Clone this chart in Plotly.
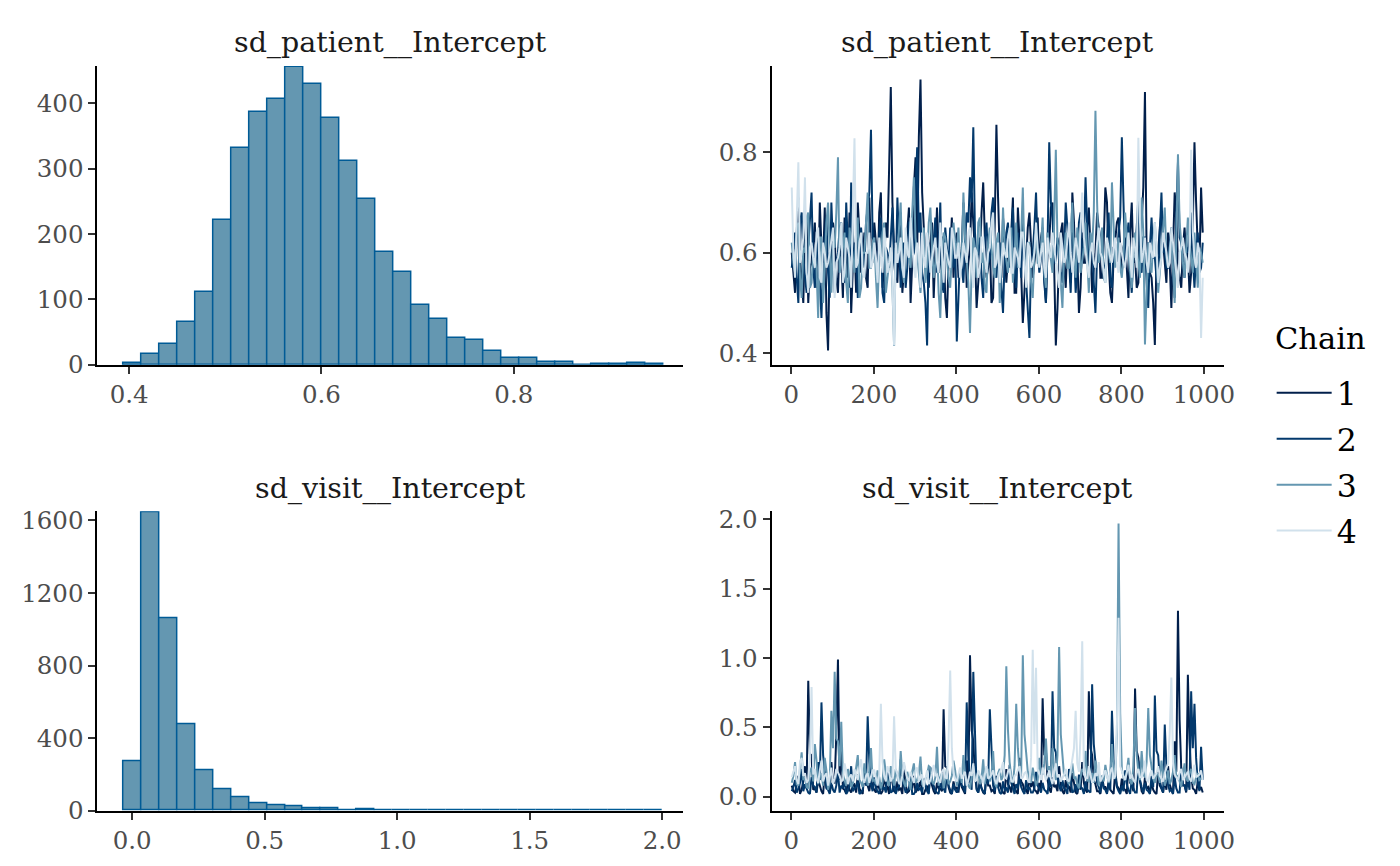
import plotly.graph_objects as go

# Histogram counts (30 bins each)
patient_bin_start = 0.3944
patient_bin_width = 0.01869
patient_counts = [2, 17, 31, 65, 111, 221, 331, 387, 407, 455,
                  429, 377, 312, 253, 173, 142, 91, 70, 41, 37,
                  21, 10, 10, 4, 4, 0, 1, 1, 2, 1]

visit_bin_start = -0.0335
visit_bin_width = 0.0678
visit_counts = [271, 1644, 1062, 476, 221, 120, 72, 42, 31, 24,
                15, 13, 4, 7, 4, 5, 4, 2, 3, 4,
                2, 2, 2, 1, 1, 1, 1, 2, 1, 2]

# Trace plots: draws 1, 9, 17, ... ("a") and 5, 13, 21, ... ("b") of each chain
iterations = list(range(1, 1001, 4))

patient_chain1_a = [
    0.60, 0.52, 0.71, 0.55, 0.63, 0.50, 0.58, 0.66, 0.54, 0.61, 0.69, 0.405, 0.57, 0.63, 0.52, 0.59, 0.67, 0.55, 0.48, 0.62, 0.70, 0.56, 0.64, 0.53, 0.60,
    0.66, 0.55, 0.72, 0.58, 0.63, 0.93, 0.61, 0.54, 0.68, 0.57, 0.64, 0.50, 0.73, 0.60, 0.945, 0.65, 0.56, 0.62, 0.51, 0.69, 0.58, 0.63, 0.47, 0.60, 0.55,
    0.64, 0.57, 0.70, 0.53, 0.61, 0.66, 0.49, 0.59, 0.74, 0.55, 0.62, 0.51, 0.855, 0.60, 0.67, 0.54, 0.58, 0.71, 0.52, 0.63, 0.46, 0.60, 0.68, 0.55, 0.61,
    0.57, 0.65, 0.50, 0.62, 0.70, 0.415, 0.59, 0.66, 0.53, 0.61, 0.72, 0.56, 0.48, 0.64, 0.58, 0.69, 0.52, 0.60, 0.65, 0.55, 0.73, 0.58, 0.50, 0.62, 0.67,
    0.56, 0.63, 0.51, 0.70, 0.59, 0.54, 0.66, 0.92, 0.62, 0.55, 0.416, 0.60, 0.68, 0.57, 0.64, 0.49, 0.72, 0.58, 0.53, 0.65, 0.60, 0.56, 0.82, 0.61, 0.73,
]
patient_chain1_b = [
    0.56, 0.64, 0.59, 0.50, 0.67, 0.57, 0.62, 0.53, 0.70, 0.58, 0.48, 0.60, 0.66, 0.55, 0.63, 0.51, 0.61, 0.68, 0.57, 0.52, 0.64, 0.59, 0.55, 0.71, 0.58,
    0.62, 0.68, 0.53, 0.66, 0.77, 0.70, 0.57, 0.63, 0.52, 0.61, 0.69, 0.58, 0.79, 0.83, 0.72, 0.59, 0.53, 0.66, 0.60, 0.56, 0.63, 0.51, 0.58, 0.67, 0.62,
    0.55, 0.61, 0.65, 0.58, 0.72, 0.60, 0.54, 0.68, 0.63, 0.57, 0.50, 0.66, 0.71, 0.55, 0.62, 0.59, 0.64, 0.52, 0.69, 0.56, 0.53, 0.65, 0.60, 0.58, 0.67,
    0.63, 0.55, 0.61, 0.69, 0.57, 0.49, 0.64, 0.58, 0.62, 0.54, 0.66, 0.60, 0.53, 0.58, 0.65, 0.61, 0.57, 0.68, 0.55, 0.62, 0.70, 0.52, 0.59, 0.66, 0.60,
    0.61, 0.57, 0.64, 0.58, 0.53, 0.67, 0.73, 0.60, 0.56, 0.50, 0.59, 0.65, 0.62, 0.54, 0.58, 0.63, 0.68, 0.55, 0.61, 0.59, 0.52, 0.66, 0.70, 0.57, 0.64,
]
patient_chain2_a = [
    0.57, 0.64, 0.50, 0.68, 0.55, 0.61, 0.72, 0.53, 0.59, 0.47, 0.63, 0.56, 0.70, 0.52, 0.60, 0.66, 0.54, 0.61, 0.74, 0.58, 0.51, 0.65, 0.57, 0.69, 0.845,
    0.62, 0.55, 0.67, 0.50, 0.60, 0.64, 0.58, 0.71, 0.53, 0.62, 0.57, 0.66, 0.60, 0.81, 0.68, 0.54, 0.415, 0.59, 0.63, 0.56, 0.70, 0.52, 0.61, 0.65, 0.57,
    0.423, 0.60, 0.54, 0.68, 0.75, 0.85, 0.58, 0.63, 0.51, 0.66, 0.59, 0.71, 0.55, 0.62, 0.48, 0.64, 0.57, 0.69, 0.53, 0.61, 0.66, 0.55, 0.43, 0.60, 0.72,
    0.56, 0.63, 0.50, 0.82, 0.67, 0.58, 0.61, 0.54, 0.70, 0.57, 0.64, 0.52, 0.66, 0.59, 0.75, 0.55, 0.62, 0.48, 0.65, 0.60, 0.57, 0.68, 0.53, 0.61, 0.64,
    0.83, 0.58, 0.66, 0.52, 0.60, 0.71, 0.56, 0.63, 0.49, 0.67, 0.59, 0.54, 0.72, 0.61, 0.57, 0.65, 0.51, 0.78, 0.62, 0.55, 0.60, 0.68, 0.53, 0.64, 0.57,
]
patient_chain2_b = [
    0.61, 0.55, 0.66, 0.59, 0.52, 0.68, 0.57, 0.63, 0.54, 0.60, 0.67, 0.51, 0.62, 0.58, 0.65, 0.56, 0.70, 0.53, 0.61, 0.64, 0.57, 0.60, 0.66, 0.72, 0.63,
    0.58, 0.64, 0.52, 0.61, 0.57, 0.69, 0.55, 0.62, 0.60, 0.53, 0.66, 0.59, 0.72, 0.64, 0.56, 0.50, 0.62, 0.58, 0.67, 0.61, 0.54, 0.65, 0.57, 0.60, 0.63,
    0.51, 0.57, 0.62, 0.66, 0.70, 0.64, 0.60, 0.55, 0.63, 0.58, 0.68, 0.56, 0.61, 0.53, 0.59, 0.66, 0.62, 0.57, 0.64, 0.55, 0.60, 0.50, 0.58, 0.65, 0.61,
    0.59, 0.54, 0.62, 0.70, 0.58, 0.63, 0.56, 0.60, 0.65, 0.52, 0.61, 0.57, 0.68, 0.62, 0.66, 0.59, 0.54, 0.60, 0.63, 0.57, 0.64, 0.55, 0.61, 0.58, 0.67,
    0.70, 0.62, 0.57, 0.60, 0.65, 0.58, 0.63, 0.54, 0.61, 0.59, 0.55, 0.64, 0.60, 0.57, 0.62, 0.56, 0.68, 0.63, 0.58, 0.61, 0.65, 0.59, 0.60, 0.56, 0.62,
]
patient_chain3_a = [
    0.62, 0.56, 0.66, 0.51, 0.60, 0.68, 0.54, 0.59, 0.47, 0.63, 0.57, 0.70, 0.52, 0.61, 0.79, 0.58, 0.64, 0.50, 0.62, 0.56, 0.67, 0.53, 0.60, 0.72, 0.57,
    0.63, 0.49, 0.59, 0.66, 0.55, 0.61, 0.414, 0.58, 0.70, 0.54, 0.62, 0.57, 0.75, 0.60, 0.52, 0.65, 0.58, 0.69, 0.55, 0.61, 0.47, 0.64, 0.59, 0.53, 0.66,
    0.60, 0.56, 0.72, 0.58, 0.44, 0.63, 0.55, 0.67, 0.60, 0.52, 0.65, 0.57, 0.62, 0.50, 0.69, 0.58, 0.61, 0.54, 0.66, 0.59, 0.73, 0.56, 0.62, 0.51, 0.64,
    0.58, 0.67, 0.53, 0.61, 0.56, 0.805, 0.60, 0.49, 0.64, 0.57, 0.70, 0.55, 0.62, 0.59, 0.66, 0.52, 0.61, 0.883, 0.58, 0.65, 0.54, 0.60, 0.74, 0.57, 0.63,
    0.55, 0.68, 0.60, 0.53, 0.64, 0.58, 0.71, 0.417, 0.62, 0.56, 0.66, 0.52, 0.60, 0.69, 0.57, 0.63, 0.50, 0.796, 0.61, 0.55, 0.67, 0.59, 0.64, 0.53, 0.60,
]
patient_chain3_b = [
    0.58, 0.64, 0.55, 0.61, 0.67, 0.53, 0.60, 0.57, 0.63, 0.50, 0.66, 0.59, 0.62, 0.68, 0.56, 0.61, 0.54, 0.65, 0.58, 0.63, 0.51, 0.60, 0.66, 0.57, 0.62,
    0.55, 0.60, 0.64, 0.52, 0.58, 0.53, 0.61, 0.65, 0.57, 0.62, 0.59, 0.68, 0.63, 0.56, 0.60, 0.54, 0.66, 0.61, 0.58, 0.52, 0.59, 0.63, 0.55, 0.60, 0.62,
    0.65, 0.59, 0.63, 0.54, 0.57, 0.61, 0.66, 0.58, 0.53, 0.62, 0.60, 0.55, 0.64, 0.58, 0.61, 0.56, 0.65, 0.60, 0.57, 0.63, 0.59, 0.62, 0.54, 0.60, 0.58,
    0.61, 0.56, 0.64, 0.58, 0.66, 0.62, 0.54, 0.60, 0.57, 0.63, 0.59, 0.65, 0.56, 0.61, 0.58, 0.64, 0.68, 0.70, 0.60, 0.55, 0.62, 0.58, 0.63, 0.60, 0.57,
    0.60, 0.63, 0.57, 0.59, 0.61, 0.55, 0.64, 0.52, 0.58, 0.62, 0.60, 0.56, 0.65, 0.59, 0.61, 0.57, 0.63, 0.66, 0.58, 0.60, 0.62, 0.56, 0.59, 0.61, 0.58,
]
patient_chain4_a = [
    0.73, 0.55, 0.78, 0.60, 0.75, 0.52, 0.62, 0.57, 0.65, 0.54, 0.60, 0.58, 0.63, 0.51, 0.59, 0.66, 0.56, 0.61, 0.53, 0.828, 0.58, 0.64, 0.55, 0.60, 0.57,
    0.62, 0.54, 0.59, 0.65, 0.56, 0.61, 0.415, 0.58, 0.63, 0.55, 0.60, 0.67, 0.57, 0.62, 0.53, 0.59, 0.64, 0.56, 0.61, 0.58, 0.66, 0.54, 0.60, 0.57, 0.63,
    0.59, 0.55, 0.62, 0.58, 0.65, 0.53, 0.60, 0.57, 0.63, 0.56, 0.61, 0.68, 0.58, 0.54, 0.62, 0.59, 0.65, 0.56, 0.60, 0.57, 0.64, 0.53, 0.61, 0.58, 0.66,
    0.57, 0.62, 0.55, 0.60, 0.64, 0.58, 0.53, 0.61, 0.59, 0.66, 0.56, 0.63, 0.58, 0.72, 0.60, 0.55, 0.62, 0.57, 0.65, 0.59, 0.54, 0.61, 0.58, 0.63, 0.56,
    0.60, 0.57, 0.64, 0.55, 0.61, 0.829, 0.58, 0.63, 0.56, 0.60, 0.66, 0.54, 0.59, 0.62, 0.57, 0.65, 0.58, 0.53, 0.61, 0.60, 0.56, 0.805, 0.59, 0.62, 0.43,
]
patient_chain4_b = [
    0.60, 0.66, 0.58, 0.63, 0.56, 0.61, 0.59, 0.64, 0.55, 0.62, 0.57, 0.60, 0.65, 0.58, 0.61, 0.54, 0.63, 0.59, 0.66, 0.57, 0.62, 0.56, 0.60, 0.64, 0.58,
    0.59, 0.63, 0.56, 0.61, 0.58, 0.54, 0.62, 0.60, 0.57, 0.65, 0.59, 0.62, 0.55, 0.60, 0.64, 0.57, 0.61, 0.59, 0.63, 0.56, 0.60, 0.62, 0.58, 0.65, 0.59,
    0.62, 0.58, 0.60, 0.64, 0.57, 0.61, 0.55, 0.63, 0.59, 0.60, 0.66, 0.57, 0.62, 0.58, 0.60, 0.63, 0.56, 0.61, 0.59, 0.64, 0.58, 0.62, 0.57, 0.60, 0.61,
    0.60, 0.57, 0.63, 0.59, 0.61, 0.56, 0.64, 0.58, 0.62, 0.60, 0.59, 0.61, 0.65, 0.63, 0.57, 0.60, 0.58, 0.62, 0.60, 0.56, 0.63, 0.59, 0.61, 0.58, 0.62,
    0.58, 0.61, 0.59, 0.63, 0.57, 0.66, 0.60, 0.58, 0.62, 0.59, 0.61, 0.57, 0.64, 0.60, 0.58, 0.62, 0.56, 0.60, 0.63, 0.59, 0.61, 0.64, 0.57, 0.60, 0.55,
]

visit_chain1_a = [
    0.08, 0.03, 0.15, 0.05, 0.22, 0.836, 0.30, 0.06, 0.12, 0.04, 0.18, 0.07, 0.25, 0.10, 0.99, 0.35, 0.05, 0.11, 0.03, 0.09, 0.16, 0.04, 0.20, 0.08, 0.13,
    0.05, 0.10, 0.02, 0.14, 0.07, 0.19, 0.04, 0.11, 0.06, 0.23, 0.03, 0.09, 0.15, 0.05, 0.12, 0.02, 0.08, 0.17, 0.04, 0.10, 0.06, 0.63, 0.21, 0.03, 0.11,
    0.07, 0.14, 0.04, 0.26, 1.02, 0.40, 0.06, 0.12, 0.03, 0.18, 0.08, 0.05, 0.15, 0.10, 0.03, 0.20, 0.07, 0.13, 0.04, 0.28, 0.09, 0.05, 0.16, 0.11, 0.04,
    0.10, 0.71, 0.33, 0.06, 0.14, 0.08, 0.22, 0.04, 0.12, 0.07, 0.17, 0.03, 0.10, 0.25, 0.05, 0.76, 0.30, 0.09, 0.04, 0.15, 0.07, 0.11, 0.03, 0.19, 0.06,
    0.13, 0.05, 0.24, 0.09, 0.78, 0.28, 0.04, 0.14, 0.07, 0.10, 0.03, 0.18, 0.06, 0.12, 0.22, 0.05, 0.40, 1.34, 0.20, 0.08, 0.88, 0.15, 0.05, 0.11, 0.07,
]
visit_chain1_b = [
    0.04, 0.09, 0.02, 0.11, 0.06, 0.31, 0.05, 0.03, 0.08, 0.02, 0.07, 0.04, 0.10, 0.45, 0.12, 0.06, 0.02, 0.05, 0.08, 0.03, 0.06, 0.02, 0.09, 0.04, 0.07,
    0.03, 0.06, 0.04, 0.08, 0.02, 0.10, 0.03, 0.05, 0.02, 0.09, 0.04, 0.06, 0.03, 0.07, 0.02, 0.05, 0.03, 0.08, 0.02, 0.06, 0.04, 0.22, 0.07, 0.02, 0.05,
    0.03, 0.07, 0.02, 0.10, 0.48, 0.15, 0.03, 0.06, 0.02, 0.08, 0.04, 0.02, 0.07, 0.05, 0.02, 0.09, 0.03, 0.06, 0.02, 0.11, 0.04, 0.02, 0.07, 0.05, 0.02,
    0.05, 0.30, 0.12, 0.03, 0.07, 0.04, 0.09, 0.02, 0.06, 0.03, 0.08, 0.02, 0.05, 0.10, 0.03, 0.35, 0.12, 0.04, 0.02, 0.07, 0.03, 0.05, 0.02, 0.08, 0.03,
    0.06, 0.02, 0.10, 0.04, 0.33, 0.11, 0.02, 0.06, 0.03, 0.05, 0.02, 0.08, 0.03, 0.05, 0.09, 0.02, 0.18, 0.55, 0.08, 0.03, 0.40, 0.06, 0.02, 0.05, 0.03,
]
visit_chain2_a = [
    0.04, 0.12, 0.06, 0.20, 0.09, 0.03, 0.14, 0.07, 0.25, 0.68, 0.15, 0.05, 0.10, 0.03, 0.18, 0.08, 0.12, 0.04, 0.22, 0.06, 0.11, 0.03, 0.16, 0.58, 0.09,
    0.14, 0.04, 0.10, 0.07, 0.19, 0.03, 0.12, 0.06, 0.27, 0.08, 0.05, 0.15, 0.02, 0.10, 0.06, 0.13, 0.04, 0.21, 0.08, 0.03, 0.11, 0.06, 0.18, 0.05, 0.09,
    0.03, 0.16, 0.07, 0.68, 0.12, 0.90, 0.05, 0.10, 0.04, 0.20, 0.63, 0.08, 0.14, 0.03, 0.11, 0.06, 0.23, 0.05, 0.09, 0.15, 0.04, 0.12, 0.07, 0.03, 0.18,
    0.06, 0.10, 0.04, 0.14, 0.76, 0.32, 0.08, 0.12, 0.05, 0.20, 0.03, 0.09, 0.16, 0.06, 0.11, 0.04, 0.81, 0.25, 0.07, 0.13, 0.05, 0.10, 0.62, 0.15, 0.04,
    0.08, 0.19, 0.05, 0.12, 0.03, 0.26, 0.07, 0.10, 0.04, 0.15, 0.73, 0.30, 0.06, 0.52, 0.09, 0.05, 0.14, 0.03, 0.21, 0.08, 0.12, 0.76, 0.67, 0.10, 0.36,
]
visit_chain2_b = [
    0.07, 0.03, 0.10, 0.04, 0.06, 0.02, 0.08, 0.03, 0.12, 0.30, 0.06, 0.02, 0.05, 0.08, 0.03, 0.06, 0.02, 0.09, 0.04, 0.07, 0.02, 0.05, 0.08, 0.25, 0.04,
    0.06, 0.02, 0.05, 0.03, 0.09, 0.04, 0.02, 0.07, 0.11, 0.03, 0.06, 0.02, 0.04, 0.05, 0.03, 0.08, 0.02, 0.10, 0.04, 0.02, 0.06, 0.03, 0.08, 0.02, 0.05,
    0.06, 0.08, 0.03, 0.30, 0.05, 0.42, 0.03, 0.06, 0.02, 0.09, 0.28, 0.04, 0.07, 0.02, 0.05, 0.03, 0.10, 0.02, 0.06, 0.07, 0.02, 0.05, 0.03, 0.06, 0.08,
    0.03, 0.05, 0.02, 0.07, 0.35, 0.14, 0.04, 0.06, 0.02, 0.09, 0.04, 0.03, 0.07, 0.02, 0.05, 0.03, 0.38, 0.10, 0.03, 0.06, 0.02, 0.05, 0.27, 0.07, 0.02,
    0.04, 0.09, 0.02, 0.06, 0.03, 0.12, 0.03, 0.05, 0.02, 0.07, 0.33, 0.12, 0.03, 0.22, 0.04, 0.02, 0.06, 0.03, 0.09, 0.04, 0.05, 0.35, 0.28, 0.04, 0.12,
]
visit_chain3_a = [
    0.10, 0.25, 0.08, 0.32, 0.14, 0.06, 0.21, 0.38, 0.09, 0.17, 0.28, 0.05, 0.62, 0.90, 0.40, 0.54, 0.12, 0.20, 0.07, 0.16, 0.30, 0.10, 0.24, 0.08, 0.35,
    0.13, 0.19, 0.06, 0.27, 0.11, 0.22, 0.08, 0.15, 0.33, 0.10, 0.18, 0.05, 0.24, 0.12, 0.29, 0.07, 0.16, 0.21, 0.09, 0.36, 0.14, 0.06, 0.20, 0.11, 0.26,
    0.08, 0.17, 0.30, 0.12, 0.06, 0.22, 0.14, 0.09, 0.27, 0.18, 0.11, 0.33, 0.07, 0.20, 0.15, 0.94, 0.25, 0.10, 0.67, 0.19, 1.02, 0.32, 0.13, 0.21, 0.08,
    0.28, 0.16, 0.42, 0.22, 0.35, 0.12, 1.08, 0.30, 0.18, 0.09, 0.24, 0.14, 0.06, 0.20, 0.33, 0.11, 0.17, 0.26, 0.08, 0.15, 0.23, 0.10, 0.38, 0.13, 1.97,
    0.20, 0.12, 0.28, 0.09, 0.64, 0.18, 0.33, 0.14, 0.64, 0.22, 0.10, 0.16, 0.26, 0.08, 0.19, 0.12, 0.30, 0.15, 0.07, 0.24, 0.11, 0.20, 0.09, 0.17, 0.13,
]
visit_chain3_b = [
    0.15, 0.09, 0.20, 0.12, 0.07, 0.18, 0.11, 0.26, 0.14, 0.08, 0.19, 0.10, 0.35, 0.42, 0.22, 0.16, 0.08, 0.13, 0.10, 0.21, 0.12, 0.07, 0.15, 0.19, 0.11,
    0.09, 0.14, 0.10, 0.17, 0.08, 0.13, 0.20, 0.09, 0.15, 0.07, 0.12, 0.18, 0.10, 0.16, 0.09, 0.13, 0.22, 0.11, 0.14, 0.08, 0.17, 0.12, 0.09, 0.15, 0.19,
    0.12, 0.10, 0.16, 0.08, 0.14, 0.11, 0.18, 0.13, 0.09, 0.20, 0.15, 0.10, 0.17, 0.12, 0.30, 0.48, 0.14, 0.22, 0.35, 0.16, 0.45, 0.18, 0.10, 0.14, 0.12,
    0.17, 0.24, 0.19, 0.14, 0.20, 0.30, 0.45, 0.15, 0.11, 0.16, 0.13, 0.09, 0.14, 0.18, 0.12, 0.15, 0.10, 0.19, 0.13, 0.11, 0.16, 0.14, 0.20, 0.45, 0.60,
    0.14, 0.18, 0.11, 0.22, 0.30, 0.12, 0.16, 0.25, 0.30, 0.13, 0.17, 0.10, 0.15, 0.12, 0.09, 0.18, 0.14, 0.11, 0.16, 0.13, 0.17, 0.10, 0.14, 0.12, 0.15,
]
visit_chain4_a = [
    0.14, 0.22, 0.09, 0.28, 0.17, 0.12, 0.79, 0.20, 0.10, 0.26, 0.15, 0.08, 0.21, 0.13, 0.18, 0.11, 0.24, 0.09, 0.16, 0.20, 0.12, 0.27, 0.10, 0.17, 0.14,
    0.19, 0.08, 0.67, 0.15, 0.22, 0.11, 0.58, 0.16, 0.09, 0.25, 0.13, 0.18, 0.10, 0.21, 0.14, 0.07, 0.19, 0.12, 0.23, 0.16, 0.10, 0.20, 0.13, 0.91, 0.17,
    0.11, 0.21, 0.15, 0.08, 0.18, 0.24, 0.12, 0.16, 0.10, 0.22, 0.14, 0.19, 0.09, 0.17, 0.25, 0.13, 0.20, 0.11, 0.16, 0.22, 0.14, 0.18, 0.10, 1.06, 0.93,
    0.15, 0.21, 0.12, 0.19, 0.09, 0.24, 0.16, 0.13, 0.20, 0.11, 0.28, 0.62, 0.18, 1.12, 0.14, 0.22, 0.10, 0.17, 0.25, 0.13, 0.19, 0.11, 0.21, 0.15, 1.29,
    0.18, 0.12, 0.23, 0.16, 0.10, 0.20, 0.14, 0.26, 0.11, 0.19, 0.15, 0.22, 0.13, 0.17, 0.24, 0.86, 0.16, 0.12, 0.20, 0.14, 0.18, 0.11, 0.23, 0.15, 0.19,
]
visit_chain4_b = [
    0.18, 0.12, 0.25, 0.15, 0.10, 0.30, 0.16, 0.13, 0.19, 0.11, 0.17, 0.14, 0.09, 0.20, 0.15, 0.12, 0.18, 0.14, 0.11, 0.16, 0.21, 0.13, 0.15, 0.10, 0.19,
    0.12, 0.16, 0.25, 0.11, 0.17, 0.14, 0.20, 0.10, 0.15, 0.18, 0.12, 0.14, 0.19, 0.11, 0.16, 0.13, 0.09, 0.17, 0.15, 0.12, 0.18, 0.14, 0.40, 0.35, 0.13,
    0.16, 0.13, 0.18, 0.12, 0.15, 0.11, 0.19, 0.14, 0.17, 0.13, 0.16, 0.12, 0.15, 0.20, 0.14, 0.18, 0.11, 0.15, 0.19, 0.13, 0.17, 0.12, 0.28, 0.38, 0.20,
    0.12, 0.17, 0.15, 0.13, 0.18, 0.14, 0.11, 0.16, 0.12, 0.19, 0.35, 0.24, 0.45, 0.16, 0.13, 0.17, 0.12, 0.15, 0.11, 0.16, 0.14, 0.18, 0.13, 0.50, 0.22,
    0.15, 0.19, 0.13, 0.12, 0.17, 0.14, 0.18, 0.12, 0.16, 0.13, 0.17, 0.15, 0.11, 0.20, 0.45, 0.25, 0.14, 0.17, 0.12, 0.16, 0.13, 0.18, 0.14, 0.16, 0.12,
]

chain_names = ["1", "2", "3", "4"]
chain_colors = ["#011f4b", "#03396c", "#6497b1", "#d1e1ec"]

FONT = "DejaVu Serif"
TICK_FONT = dict(family=FONT, size=24.5, color="#4d4d4d")
W, H = 1384, 850


# map a pixel position in the reference picture to figure coordinates
# (page body margin plus the small scaling seen in the screenshot)
def fx(t):
    return ((t + 1.6) / 0.9944 - 8) / W


def fy(t):
    return 1 - ((t - 6) / 0.9765 - 8) / H


def bin_centers(start, width, n):
    return [start + width * (i + 0.5) for i in range(n)]


def merge(a, b):
    return [v for pair in zip(a, b) for v in pair]


fig = go.Figure()

# histograms
fig.add_trace(go.Bar(
    x=bin_centers(patient_bin_start, patient_bin_width, len(patient_counts)),
    y=patient_counts, width=patient_bin_width,
    marker=dict(color="#6497b1", line=dict(color="#005b96", width=1.5)),
    showlegend=False, xaxis="x", yaxis="y"))
fig.add_trace(go.Bar(
    x=bin_centers(visit_bin_start, visit_bin_width, len(visit_counts)),
    y=visit_counts, width=visit_bin_width,
    marker=dict(color="#6497b1", line=dict(color="#005b96", width=1.5)),
    showlegend=False, xaxis="x3", yaxis="y3"))

# trace plots
patient_chains = [merge(patient_chain1_a, patient_chain1_b),
                  merge(patient_chain2_a, patient_chain2_b),
                  merge(patient_chain3_a, patient_chain3_b),
                  merge(patient_chain4_a, patient_chain4_b)]
visit_chains = [merge(visit_chain1_a, visit_chain1_b),
                merge(visit_chain2_a, visit_chain2_b),
                merge(visit_chain3_a, visit_chain3_b),
                merge(visit_chain4_a, visit_chain4_b)]
for name, clr, vals in zip(chain_names, chain_colors, patient_chains):
    fig.add_trace(go.Scatter(
        x=iterations, y=vals, mode="lines", name=name, legendgroup=name,
        line=dict(color=clr, width=2), xaxis="x2", yaxis="y2"))
for name, clr, vals in zip(chain_names, chain_colors, visit_chains):
    fig.add_trace(go.Scatter(
        x=iterations, y=vals, mode="lines", name=name, legendgroup=name,
        showlegend=False,
        line=dict(color=clr, width=2), xaxis="x4", yaxis="y4"))

axis_style = dict(showline=True, linecolor="black", linewidth=2,
                  ticks="outside", ticklen=7, tickwidth=1.5, tickcolor="#333333",
                  tickfont=TICK_FONT, showgrid=False, zeroline=False)

left_x = [fx(96), fx(683)]
right_x = [fx(771.7), fx(1225)]
top_y = [fy(365), fy(66)]
bot_y = [fy(811.5), fy(511.7)]

fig.update_layout(
    width=W, height=H,
    margin=dict(l=0, r=0, t=0, b=0),
    paper_bgcolor="white", plot_bgcolor="white",
    font=dict(family=FONT),
    bargap=0,
    xaxis=dict(domain=left_x, anchor="y", range=[0.367, 0.976],
               tickvals=[0.4, 0.6, 0.8], tickformat=".1f", **axis_style),
    yaxis=dict(domain=top_y, anchor="x", range=[0, 457],
               tickvals=[0, 100, 200, 300, 400], **axis_style),
    xaxis2=dict(domain=right_x, anchor="y2", range=[-48, 1048],
                tickvals=[0, 200, 400, 600, 800, 1000], **axis_style),
    yaxis2=dict(domain=top_y, anchor="x2", range=[0.3767, 0.9717],
                tickvals=[0.4, 0.6, 0.8], tickformat=".1f", **axis_style),
    xaxis3=dict(domain=left_x, anchor="y3", range=[-0.131, 2.079],
                tickvals=[0, 0.5, 1.0, 1.5, 2.0], tickformat=".1f", **axis_style),
    yaxis3=dict(domain=bot_y, anchor="x3", range=[0, 1650],
                tickvals=[0, 400, 800, 1200, 1600], **axis_style),
    xaxis4=dict(domain=right_x, anchor="y4", range=[-48, 1048],
                tickvals=[0, 200, 400, 600, 800, 1000], **axis_style),
    yaxis4=dict(domain=bot_y, anchor="x4", range=[-0.1008, 2.058],
                tickvals=[0, 0.5, 1.0, 1.5, 2.0], tickformat=".1f", **axis_style),
    legend=dict(x=fx(1273), y=fy(366), xanchor="left", yanchor="top",
                font=dict(family=FONT, size=31.5, color="black"),
                itemwidth=55, tracegroupgap=2,
                bgcolor="rgba(0,0,0,0)"),
)

fig.add_annotation(text="Chain", x=fx(1274), y=fy(339), xref="paper", yref="paper",
                   showarrow=False, xanchor="left", yanchor="middle",
                   font=dict(family=FONT, size=30.5, color="black"))

titles = [
    ("sd_patient__Intercept", left_x, 42),
    ("sd_patient__Intercept", right_x, 42),
    ("sd_visit__Intercept", left_x, 489),
    ("sd_visit__Intercept", right_x, 489),
]
for text, dom, ypix in titles:
    fig.add_annotation(text=text, x=(dom[0] + dom[1]) / 2, y=fy(ypix),
                       xref="paper", yref="paper", showarrow=False,
                       xanchor="center", yanchor="middle",
                       font=dict(family=FONT, size=28.5, color="#1a1a1a"))

fig.write_html("out.html")
